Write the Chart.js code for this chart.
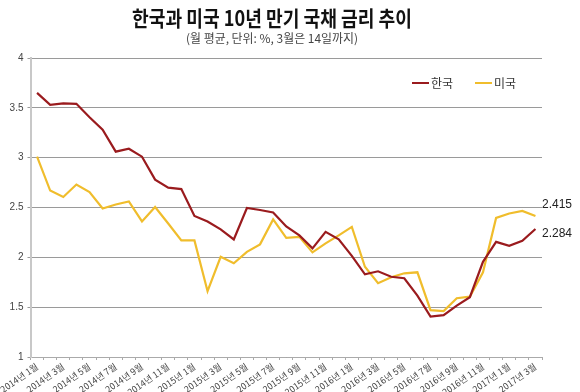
<!DOCTYPE html>
<html>
<head>
<meta charset="utf-8">
<script src="https://cdn.jsdelivr.net/npm/chart.js@4"></script>
<style>
  html, body { margin: 0; padding: 0; background: #fff; }
  #wrap { width: 580px; height: 392px; }
</style>
</head>
<body>
<div id="wrap"><canvas id="rateChart" width="580" height="392"></canvas></div>
<script>
const months = [
    '2014년 1월', '2014년 2월', '2014년 3월', '2014년 4월', '2014년 5월', '2014년 6월',
    '2014년 7월', '2014년 8월', '2014년 9월', '2014년 10월', '2014년 11월', '2014년 12월',
    '2015년 1월', '2015년 2월', '2015년 3월', '2015년 4월', '2015년 5월', '2015년 6월',
    '2015년 7월', '2015년 8월', '2015년 9월', '2015년 10월', '2015년 11월', '2015년 12월',
    '2016년 1월', '2016년 2월', '2016년 3월', '2016년 4월', '2016년 5월', '2016년 6월',
    '2016년 7월', '2016년 8월', '2016년 9월', '2016년 10월', '2016년 11월', '2016년 12월',
    '2017년 1월', '2017년 2월', '2017년 3월'
];
const korea = [
    3.65, 3.53, 3.545, 3.54, 3.405, 3.28, 3.06, 3.09, 3.01, 2.78, 2.70, 2.685,
    2.415, 2.36, 2.28, 2.18, 2.495, 2.475, 2.45, 2.31, 2.22, 2.09, 2.255, 2.18,
    2.015, 1.83, 1.86, 1.805, 1.79, 1.615, 1.405, 1.42, 1.515, 1.60, 1.955, 2.155,
    2.115, 2.165, 2.284
];
const usa = [
    3.01, 2.67, 2.605, 2.73, 2.655, 2.49, 2.53, 2.56, 2.36, 2.505, 2.34, 2.17,
    2.17, 1.66, 2.005, 1.94, 2.055, 2.13, 2.38, 2.195, 2.205, 2.05, 2.14, 2.22,
    2.305, 1.905, 1.74, 1.80, 1.84, 1.85, 1.47, 1.46, 1.59, 1.605, 1.85, 2.395,
    2.44, 2.465, 2.415
];
const seriesNames = ['한국', '미국'];
const endLabels = ['2.284', '2.415'];
const titleText = '한국과 미국 10년 만기 국채 금리 추이';
const subtitleText = '(월 평균, 단위: %, 3월은 14일까지)';

const KR_FONT = '"Noto Sans CJK KR", "Noto Sans", sans-serif';
const NUM_FONT = '"Liberation Sans Narrow", "Liberation Sans", sans-serif';

// title, legend and end-point labels
const decor = {
    id: 'decor',
    afterDraw(chart) {
        const ctx = chart.ctx;
        const area = chart.chartArea;
        ctx.save();
        ctx.textAlign = 'center';
        ctx.textBaseline = 'middle';
        ctx.fillStyle = '#111';
        ctx.font = 'bold 21px ' + KR_FONT;
        ctx.fillText(titleText, 272, 18, 280);
        ctx.fillStyle = '#444';
        ctx.font = '12px ' + KR_FONT;
        ctx.fillText(subtitleText, 272, 38, 172);

        // legend
        ctx.textAlign = 'left';
        ctx.font = '12px ' + KR_FONT;
        const lx = [412, 475];
        chart.data.datasets.forEach((ds, i) => {
            ctx.strokeStyle = ds.borderColor;
            ctx.lineWidth = 2;
            ctx.beginPath();
            ctx.moveTo(lx[i], 83);
            ctx.lineTo(lx[i] + 17, 83);
            ctx.stroke();
            ctx.fillStyle = '#333';
            ctx.fillText(ds.label, lx[i] + 19, 83, 24);
        });

        // last values
        ctx.fillStyle = '#222';
        ctx.font = '12px ' + NUM_FONT;
        const shift = [5, -11];
        chart.data.datasets.forEach((ds, i) => {
            const pts = chart.getDatasetMeta(i).data;
            const p = pts[pts.length - 1];
            ctx.fillText(endLabels[i], area.right, p.y + shift[i]);
        });
        ctx.restore();
    }
};

const rateCtx = document.getElementById('rateChart').getContext('2d');
const rateChart = new Chart(rateCtx, {
    type: 'line',
    data: {
        labels: months,
        datasets: [{
            label: seriesNames[0],
            data: korea,
            borderColor: '#9a1b1e',
            borderWidth: 2.2,
            pointRadius: 0,
            tension: 0
        }, {
            label: seriesNames[1],
            data: usa,
            borderColor: '#f0bd2c',
            borderWidth: 2.2,
            pointRadius: 0,
            tension: 0
        }]
    },
    options: {
        responsive: false,
        animation: false,
        layout: { padding: { top: 58, right: 38, left: 0, bottom: 0 } },
        plugins: {
            legend: { display: false },
            tooltip: { enabled: false }
        },
        scales: {
            x: {
                offset: true,
                afterFit(scale) { scale.height = 35; },
                grid: {
                    offset: true,
                    drawOnChartArea: false,
                    tickLength: 3,
                    color: '#aaa'
                },
                border: { color: '#aaa', width: 1 },
                ticks: {
                    autoSkip: false,
                    minRotation: 35,
                    maxRotation: 35,
                    padding: 1,
                    color: '#444',
                    font: { size: 9, family: KR_FONT },
                    callback(value, index) {
                        return index % 2 === 0 ? months[index] : '';
                    }
                }
            },
            y: {
                min: 1,
                max: 4,
                afterFit(scale) { scale.width = 30; },
                grid: { color: '#9a9a9a', tickLength: 3 },
                border: { color: '#c8c8c8', width: 2 },
                ticks: {
                    stepSize: 0.5,
                    padding: 4,
                    color: '#444',
                    font: { size: 10, family: NUM_FONT },
                    callback(value) { return String(value); }
                }
            }
        }
    },
    plugins: [decor]
});
</script>
</body>
</html>
